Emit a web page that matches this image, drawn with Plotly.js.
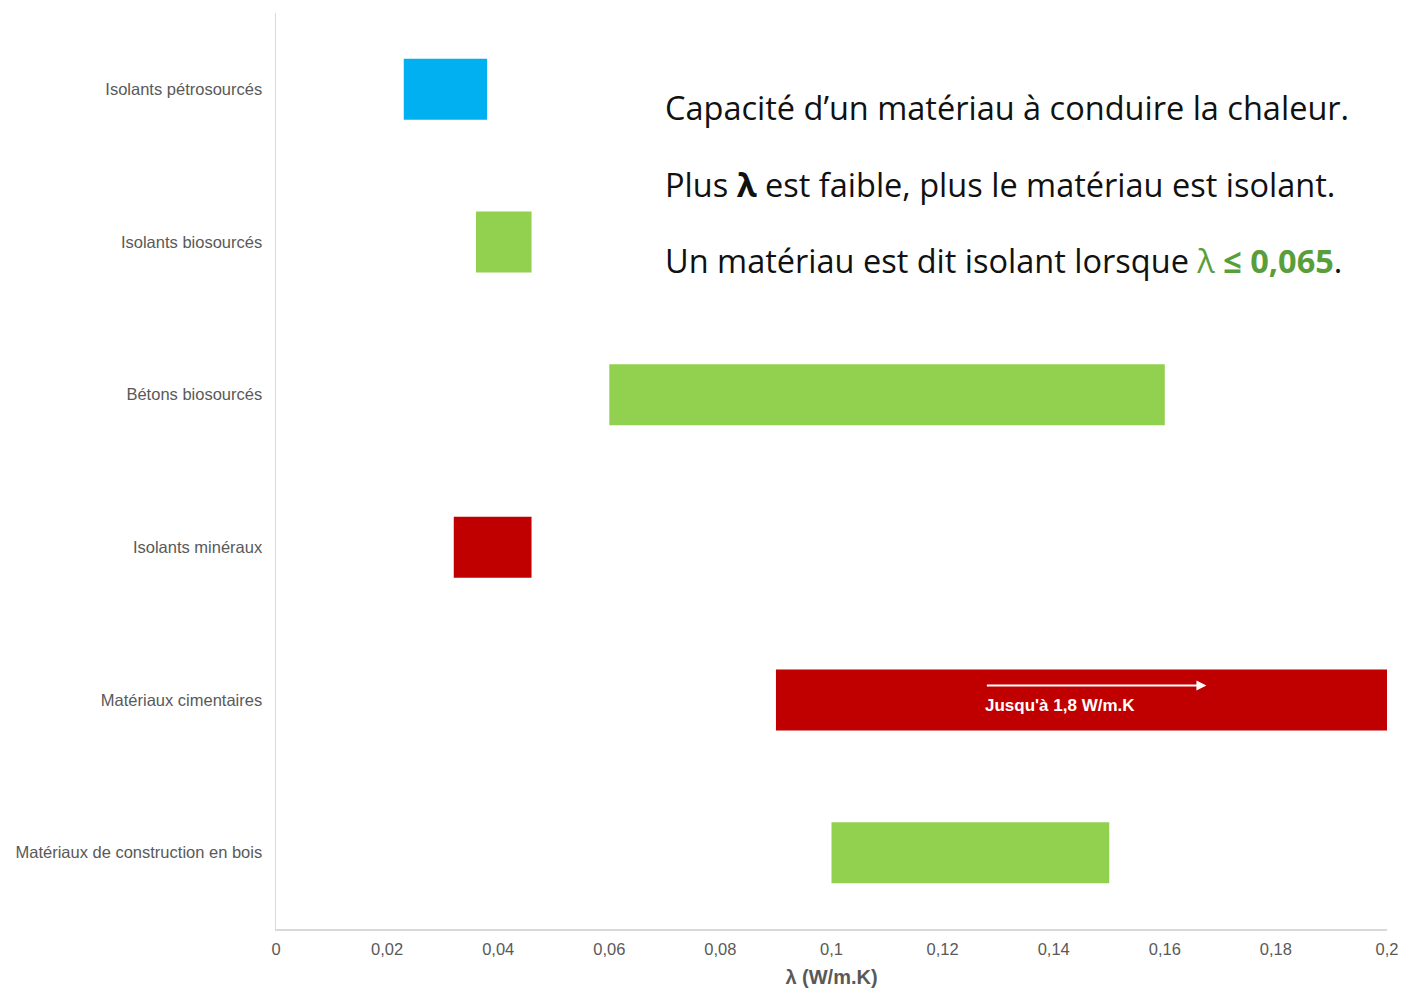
<!DOCTYPE html>
<html>
<head>
<meta charset="utf-8">
<script src="https://cdn.plot.ly/plotly-3.0.1.min.js"></script>
<style>html,body{margin:0;padding:0;background:#fff;}#chart{width:1404px;height:990px;}</style>
</head>
<body>
<div id="chart"></div>
<script>
const categories = [
  "Isolants pétrosourcés",
  "Isolants biosourcés",
  "Bétons biosourcés",
  "Isolants minéraux",
  "Matériaux cimentaires",
  "Matériaux de construction en bois"
];
const lambdaMin = [0.023, 0.036, 0.060, 0.032, 0.090, 0.100];
const lambdaMax = [0.038, 0.046, 0.160, 0.046, 0.200, 0.150];
const barColors = ["#00B0F0", "#92D050", "#92D050", "#C00000", "#C00000", "#92D050"];
const xTickVals = [0, 0.02, 0.04, 0.06, 0.08, 0.1, 0.12, 0.14, 0.16, 0.18, 0.2];
const xTickText = ["0", "0,02", "0,04", "0,06", "0,08", "0,1", "0,12", "0,14", "0,16", "0,18", "0,2"];

const widths = lambdaMax.map((v, i) => v - lambdaMin[i]);

const trace = {
  type: "bar",
  orientation: "h",
  y: categories,
  x: widths,
  base: lambdaMin,
  width: 0.4,
  marker: {color: barColors, line: {width: 0}},
  hoverinfo: "skip"
};

const txtFont = {family: "Open Sans, Lato, sans-serif", size: 32.5, color: "#111111"};

const layout = {
  width: 1404,
  height: 990,
  margin: {l: 276, r: 17, t: 13, b: 61},
  paper_bgcolor: "#ffffff",
  plot_bgcolor: "#ffffff",
  showlegend: false,
  xaxis: {
    range: [0, 0.2],
    tickvals: xTickVals,
    ticktext: xTickText,
    showgrid: false,
    zeroline: false,
    showline: true,
    linecolor: "#d9d9d9",
    linewidth: 1.5,
    ticks: "",
    ticklabelstandoff: 5,
    tickfont: {family: "Liberation Sans, Arial, sans-serif", size: 16.5, color: "#595959"},
    title: {text: "<b>λ (W/m.K)</b>", standoff: 12, font: {family: "Liberation Sans, Arial, sans-serif", size: 20, color: "#595959"}}
  },
  yaxis: {
    type: "category",
    categoryorder: "array",
    categoryarray: categories,
    autorange: "reversed",
    showgrid: false,
    zeroline: false,
    showline: true,
    linecolor: "#d9d9d9",
    linewidth: 1.5,
    ticks: "",
    ticklabelstandoff: 9,
    tickfont: {family: "Liberation Sans, Arial, sans-serif", size: 16.5, color: "#595959"}
  },
  annotations: [
    {xref: "paper", yref: "paper", x: 0.348, y: 0.897, xanchor: "left", yanchor: "middle", showarrow: false,
     text: "Capacité d’un matériau à conduire la chaleur.", font: txtFont},
    {xref: "paper", yref: "paper", x: 0.348, y: 0.813, xanchor: "left", yanchor: "middle", showarrow: false,
     text: "Plus <b>λ</b> est faible, plus le matériau est isolant.", font: txtFont},
    {xref: "paper", yref: "paper", x: 0.348, y: 0.730, xanchor: "left", yanchor: "middle", showarrow: false,
     text: "Un matériau est dit isolant lorsque <span style=\"color:#5A9E3C\">λ <b>≤ 0,065</b></span>.", font: txtFont},
    {xref: "x", yref: "y", x: 0.1411, y: 4.035, xanchor: "center", yanchor: "middle", showarrow: false,
     text: "<b>Jusqu'à 1,8 W/m.K</b>", font: {family: "Liberation Sans, Arial, sans-serif", size: 17, color: "#ffffff"}},
    {xref: "x", yref: "y", axref: "x", ayref: "y", x: 0.1675, y: 3.905, ax: 0.1277, ay: 3.905,
     showarrow: true, arrowhead: 2, arrowsize: 1, arrowwidth: 2, arrowcolor: "#ffffff", text: ""}
  ]
};

Plotly.newPlot("chart", [trace], layout, {displayModeBar: false, staticPlot: true});
</script>
</body>
</html>
